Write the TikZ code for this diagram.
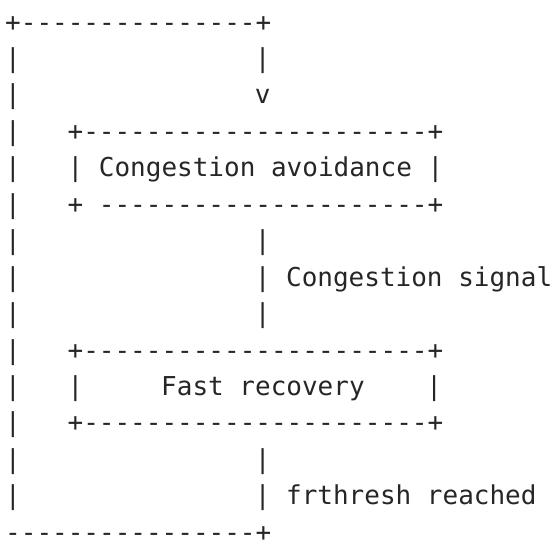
\documentclass[tikz,border=0pt]{standalone}
\usepackage{fontspec}
\setmonofont{DejaVu Sans Mono}
\definecolor{asciiink}{RGB}{38,38,38}
\tikzset{
  ascii/.style={anchor=base west, inner sep=0pt, outer sep=0pt, text=asciiink,
    font=\ttfamily\fontsize{26}{26}\selectfont}
}
\begin{document}
\begin{tikzpicture}

        % Page frame, same size as the reference
        \useasboundingbox (0,0) rectangle (554pt,-542pt);

        % One unit = one character cell: x = column, y = line
        \begin{scope}[x=15.6pt, y=-36.45pt, shift={(5.2pt,-31pt)}]

        % Loop back line on the left
        \node[ascii] (looptop) at (0,0) {+---------------+};
        \foreach \r in {1,...,13}
            \node[ascii] (loop\r) at (0,\r) {|};
        \node[ascii] (loopbottom) at (0,14) {----------------+};

        % Entry into congestion avoidance
        \node[ascii] (entry) at (16,1) {|};
        \node[ascii] (entryhead) at (16,2) {v};

        % Congestion avoidance box
        \node[ascii] (avoidtop) at (4,3) {+----------------------+};
        \node[ascii] (avoid) at (4,4) {| Congestion avoidance |};
        \node[ascii] (avoidbottom) at (4,5) {+ ---------------------+};

        % Transition on congestion signal
        \node[ascii] (signal1) at (16,6) {|};
        \node[ascii] (signal) at (16,7) {| Congestion signal};
        \node[ascii] (signal3) at (16,8) {|};

        % Fast recovery box
        \node[ascii] (recoverytop) at (4,9) {+----------------------+};
        \node[ascii] (recoveryleft) at (4,10) {|};
        \node[ascii] (recovery) at (10,10) {Fast recovery};
        \node[ascii] (recoveryright) at (27,10) {|};
        \node[ascii] (recoverybottom) at (4,11) {+----------------------+};

        % Transition back when frthresh is reached
        \node[ascii] (thresh1) at (16,12) {|};
        \node[ascii] (thresh) at (16,13) {| frthresh reached};

        \end{scope}

    \end{tikzpicture}
\end{document}
